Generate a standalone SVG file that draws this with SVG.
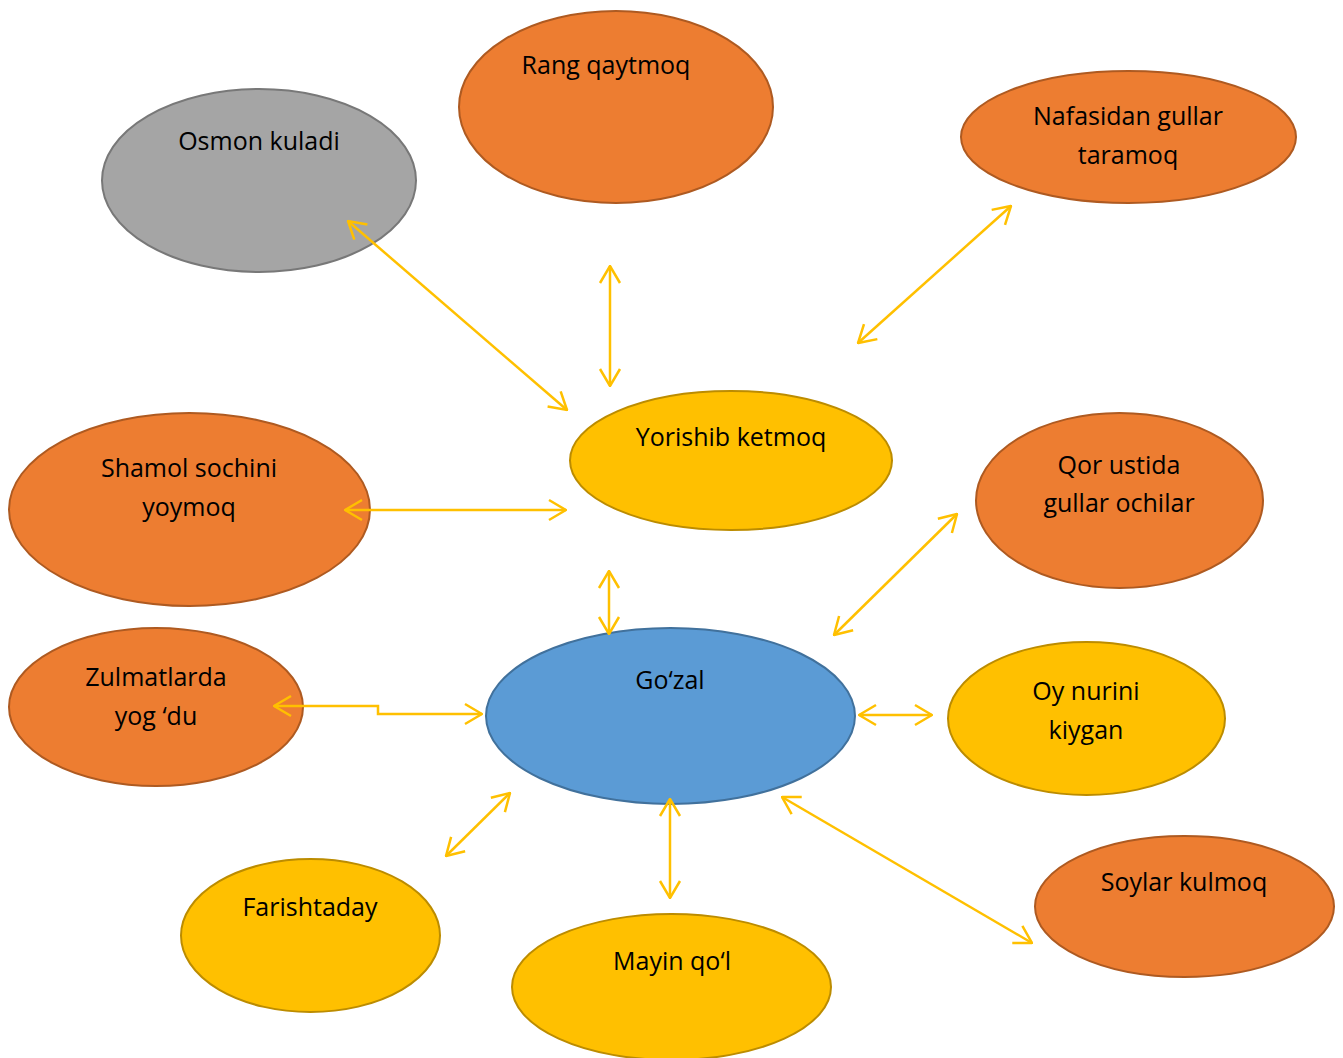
<svg xmlns="http://www.w3.org/2000/svg" width="1343" height="1058" viewBox="0 0 1343 1058">
<defs>
<marker id="ah" viewBox="0 0 20 24" refX="19" refY="12" markerWidth="20" markerHeight="24" markerUnits="userSpaceOnUse" orient="auto-start-reverse">
<path d="M2,2 L19,12 L2,22" fill="none" stroke="#FFC000" stroke-width="2.5"/>
</marker>
<style>
.or{fill:#ED7D31;stroke:#AE5A21;stroke-width:2}
.ye{fill:#FFC000;stroke:#BC8C00;stroke-width:2}
.bl{fill:#5B9BD5;stroke:#41719C;stroke-width:2}
.gr{fill:#A5A5A5;stroke:#787878;stroke-width:2}
text{font-family:"Open Sans","Liberation Sans",Arial,sans-serif;font-size:25px;fill:#000;text-anchor:middle}
.c{fill:none;stroke:#FFC000;stroke-width:2.5;marker-start:url(#ah);marker-end:url(#ah)}
</style>
</defs>
<rect width="1343" height="1058" fill="#fff"/>
<g id="osmon"><ellipse class="gr" cx="259" cy="180.5" rx="157" ry="91.5"/><text x="259" y="150">Osmon kuladi</text></g>
<g id="rang"><ellipse class="or" cx="616" cy="107" rx="157" ry="96"/><text x="606" y="74">Rang qaytmoq</text></g>
<g id="nafas"><ellipse class="or" cx="1128.5" cy="137" rx="167.5" ry="66"/><text x="1128" y="125">Nafasidan gullar</text><text x="1128" y="164">taramoq</text></g>
<g id="yorishib"><ellipse class="ye" cx="731" cy="460.5" rx="161" ry="69.5"/><text x="731" y="446">Yorishib ketmoq</text></g>
<g id="shamol"><ellipse class="or" cx="189.5" cy="509.5" rx="180.5" ry="96.5"/><text x="189" y="477">Shamol sochini</text><text x="189" y="516">yoymoq</text></g>
<g id="qor"><ellipse class="or" cx="1119.5" cy="500.5" rx="143.5" ry="87.5"/><text x="1119" y="474">Qor ustida</text><text x="1119" y="512">gullar ochilar</text></g>
<g id="zulmat"><ellipse class="or" cx="156" cy="707" rx="147" ry="79"/><text x="156" y="686">Zulmatlarda</text><text x="156" y="725">yog ‘du</text></g>
<g id="gozal"><ellipse class="bl" cx="670.5" cy="716" rx="184.5" ry="88"/><text x="670" y="689">Go‘zal</text></g>
<g id="oy"><ellipse class="ye" cx="1086.5" cy="718.5" rx="138.5" ry="76.5"/><text x="1086" y="700">Oy nurini</text><text x="1086" y="739">kiygan</text></g>
<g id="farishta"><ellipse class="ye" cx="310.5" cy="935.5" rx="129.5" ry="76.5"/><text x="310" y="916">Farishtaday</text></g>
<g id="mayin"><ellipse class="ye" cx="671.5" cy="987" rx="159.5" ry="73"/><text x="672" y="970">Mayin qo‘l</text></g>
<g id="soylar"><ellipse class="or" cx="1184.5" cy="906.5" rx="149.5" ry="70.5"/><text x="1184" y="891">Soylar kulmoq</text></g>
<g id="connectors">
<line class="c" x1="348" y1="221" x2="567" y2="410"/>
<line class="c" x1="610" y1="266" x2="610" y2="386"/>
<line class="c" x1="1011" y1="206" x2="858" y2="343"/>
<line class="c" x1="345" y1="510" x2="566" y2="510"/>
<line class="c" x1="609" y1="571" x2="609" y2="634"/>
<line class="c" x1="957" y1="514" x2="834" y2="635"/>
<polyline class="c" points="274,706 378,706 378,714 482,714"/>
<line class="c" x1="859" y1="715" x2="932" y2="715"/>
<line class="c" x1="510" y1="793" x2="446" y2="856"/>
<line class="c" x1="670" y1="799" x2="670" y2="898"/>
<line class="c" x1="782" y1="797" x2="1032" y2="943"/>
</g>
</svg>
